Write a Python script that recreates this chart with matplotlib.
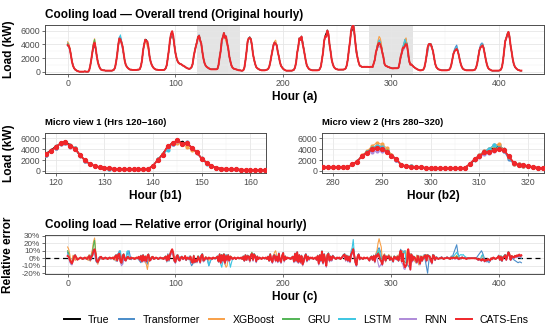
import numpy as np
import matplotlib
matplotlib.use("Agg")
import matplotlib.pyplot as plt
from matplotlib.lines import Line2D
from matplotlib.ticker import FuncFormatter, MultipleLocator

plt.rcParams['font.family'] = ['Liberation Sans', 'DejaVu Sans']

# ---------------- data (hourly, hours 0..421) ----------------
true_kw = [
 3800,3700,3400,2600,1600,900,500,300,200,100,50,0,0,0,0,0,50,0,0,0,200,900,1800,2800,
 3500,3800,3300,2400,1500,900,500,300,250,200,200,150,150,150,150,150,150,150,200,300,600,1400,2600,3800,
 4600,4900,4500,3600,2500,1600,1000,700,500,400,300,300,250,250,250,250,250,300,300,400,800,1700,3000,4100,
 4600,4700,4300,3400,2300,1500,1000,700,500,400,300,300,250,250,250,250,250,250,300,500,1000,2000,3300,4500,
 5100,5300,4900,4000,2900,2000,1500,1300,1200,1100,1000,900,800,700,600,500,450,400,500,700,1200,2200,3200,3800,
 4500,5000,5300,4800,4000,2800,2000,1300,900,700,600,500,400,350,350,350,350,350,350,400,1000,2000,3200,4400,
 5200,5400,5300,5000,4300,3300,2300,1500,900,600,450,400,350,300,250,200,200,150,150,200,600,1600,3000,4300,
 4800,5100,4600,3700,2600,1700,1100,700,500,400,300,250,200,200,200,200,250,300,400,700,1300,2300,3200,3800,
 4100,4200,3800,3000,2100,1400,900,600,400,300,200,150,150,150,150,150,150,200,300,600,1400,2600,3800,4700,
 4900,5000,4500,3500,2400,1500,900,600,400,300,250,200,200,200,200,200,200,250,400,800,1700,3000,4300,5300,
 5700,5800,5200,4100,2900,1800,1100,700,500,400,350,300,300,300,300,300,300,350,500,900,1900,3200,4600,5700,
 6100,6300,5600,4400,3100,2000,1300,900,800,700,700,700,700,700,700,700,700,700,700,700,1200,1800,2700,3300,
 3800,4100,4100,3700,3000,2100,1100,900,800,700,650,600,550,500,500,500,500,500,500,600,1200,2000,2800,3300,
 3800,4300,4500,4000,2400,1500,1200,1000,900,700,600,500,400,300,250,200,200,250,300,600,1300,2400,3400,3900,
 4000,4100,3700,2900,2000,1200,700,500,350,300,250,200,200,200,200,200,200,250,300,500,1000,1800,2600,3000,
 3200,3300,3000,2400,1600,1000,600,400,300,250,200,200,200,200,200,200,200,250,300,600,1200,2200,3100,3600,
 3800,3900,3500,2700,1800,1100,600,400,300,200,150,150,150,150,150,150,150,200,300,700,1600,3000,4300,5000,
 5300,5400,4900,3900,2800,1800,1100,700,500,350,250,200,150,150,
]

# relative error of each model, in percent (hourly)
err_transformer = [
 8,3,-3,-6,-4,2,3,-2,1,0,-1,0,1,0,0,-1,0,1,0,2,-3,4,-2,3,
 12,8,-3,-6,-2,1,2,-1,0,1,0,-1,0,0,1,0,-1,0,1,-2,3,-4,5,6,
 10,6,-5,-8,3,2,-1,4,8,10,3,-2,0,1,0,-1,0,1,-2,-4,-6,3,4,-2,
 3,-3,-8,4,2,-1,2,0,1,-1,0,1,0,-1,0,0,1,0,-1,3,-5,6,-4,4,
 6,9,4,-4,-6,3,5,-3,2,-1,1,0,-1,2,-3,1,-2,3,-6,-10,-8,-4,-6,-3,
 -5,3,2,-6,4,6,-4,-3,2,1,-4,-10,-6,-2,0,1,0,-1,1,3,-5,6,-7,5,
 -4,6,-8,5,-3,5,-4,3,2,-1,0,1,-1,0,1,0,1,0,-1,3,-4,5,-3,4,
 3,-4,5,4,-3,6,2,-5,3,-1,1,0,-1,1,0,-1,1,0,2,-3,6,-3,-6,4,
 5,-2,3,-5,7,-3,-4,4,6,-2,3,-1,0,1,-1,0,1,2,-3,5,-4,7,-6,5,
 -6,4,-7,-5,3,6,-4,3,-2,1,0,1,-1,0,1,-2,3,-6,5,-4,8,-7,6,-3,
 -9,5,7,-4,3,-3,4,2,0,-1,1,0,1,-1,0,2,5,4,-3,4,-4,3,-5,6,
 10,14,4,-6,-10,3,6,-2,1,0,-1,1,0,0,1,-1,-2,1,3,-3,4,-5,5,8,
 12,14,10,6,-6,-4,5,-4,3,2,4,-3,2,-2,-5,3,1,-2,3,-4,6,12,8,10,
 8,10,6,-8,-10,-12,6,-4,3,2,-3,-6,4,-3,-8,3,-4,1,3,5,-4,-12,-20,-6,
 3,-4,-5,5,4,-3,2,1,-1,0,1,2,0,-1,1,0,2,1,0,-1,3,2,6,10,
 14,18,8,2,1,-1,2,0,1,0,-1,0,1,0,0,1,0,0,1,0,2,4,6,8,
 10,7,3,-2,-3,-5,-4,-6,-3,-1,-2,1,0,-1,0,1,4,-3,3,-4,2,3,5,-1,
 4,7,4,-3,2,1,-2,-3,-4,-5,-6,-5,-5,-6,
]
err_xgboost = [
 15,12,5,-3,-6,4,3,-3,2,0,-1,1,0,-1,0,1,0,-1,2,-3,5,-4,6,12,
 22,27,10,-4,-8,-3,2,-1,1,0,-1,0,1,0,-1,0,1,0,-1,2,-3,4,-2,4,
 5,-3,-5,4,6,-3,-2,2,1,-1,0,1,0,0,1,-1,0,1,2,-3,4,-5,3,-4,
 -5,-8,-15,-6,2,-3,2,1,-1,0,1,0,-1,0,0,1,-1,0,2,3,-4,5,-3,4,
 7,10,5,-4,-4,3,5,-3,-2,1,2,-1,0,2,-3,1,0,-2,3,-5,-7,4,-6,-3,
 -6,3,-2,-4,4,5,-4,-2,2,1,-2,-3,-1,0,-1,1,0,0,1,3,-5,6,-5,-3,
 -3,-4,-8,-12,-10,5,-4,3,2,-1,0,1,-1,0,1,0,1,0,-1,3,-4,5,-3,4,
 3,-5,3,7,-3,4,2,-3,3,-1,1,0,-1,1,0,0,1,-1,2,-4,6,-3,-4,4,
 8,10,4,-5,5,-3,-6,4,5,-3,3,-1,1,0,0,-1,1,2,-5,5,-4,6,-4,5,
 -4,3,-10,-6,3,4,-4,2,-2,1,0,1,-1,0,1,-2,4,-8,3,-3,8,-5,5,-3,
 -8,3,5,-4,3,-3,3,2,0,-1,1,0,1,-1,0,2,3,4,-3,4,-2,3,-4,4,
 6,10,2,-6,-8,3,4,-2,1,0,-1,1,0,0,1,-1,-2,2,3,-3,4,-6,6,10,
 20,26,20,15,-2,3,6,-5,3,2,5,-2,3,-1,-3,3,2,1,4,-2,7,10,6,9,
 6,8,10,-6,8,-10,6,-5,3,2,-3,-6,4,-3,-9,3,-4,2,3,4,-2,5,-3,3,
 3,-3,-5,5,4,-2,1,0,-1,0,0,1,0,-1,0,0,1,0,0,-1,2,0,2,1,
 2,4,1,-1,0,0,1,0,0,0,-1,0,0,0,0,0,0,0,0,0,-1,-2,-1,-2,
 2,4,-1,-3,-2,-3,-1,-2,-3,0,-1,1,0,-1,0,1,3,-3,3,-4,1,2,4,-1,
 3,6,4,-2,3,2,1,4,2,3,2,3,1,2,
]
err_gru = [
 10,6,-2,-5,-6,-2,2,3,1,-1,-1,0,1,0,-1,0,1,0,-1,1,3,-2,3,8,
 18,24,8,-4,-5,-2,1,2,0,-1,0,1,0,-1,0,1,0,0,1,-1,2,4,-3,5,
 7,-3,-7,3,5,-2,-3,1,2,0,-1,1,0,0,-1,0,1,0,2,-2,3,-4,4,-3,
 3,-4,2,5,-3,-2,1,2,-1,0,1,0,-1,0,1,0,0,-1,1,2,-3,4,-2,5,
 9,11,6,-3,-5,2,4,-2,-3,1,2,-1,0,3,-2,1,0,-1,2,-4,-6,3,-5,-2,
 -3,3,0,-4,3,6,-3,-2,1,0,-1,1,0,0,-1,1,0,0,1,2,-4,5,-6,5,
 -2,6,-5,4,-2,4,-3,2,1,-1,0,1,-1,0,1,0,0,1,-1,2,-3,4,-2,3,
 3,-2,5,8,-1,6,4,-4,2,-1,1,0,-1,1,0,0,1,-1,2,-3,5,-2,-5,3,
 5,-2,3,-4,6,-2,-5,3,7,-3,2,-1,1,0,0,-1,1,2,-4,6,-3,8,-5,4,
 -4,3,-7,-4,2,5,-3,2,-1,1,0,1,-1,0,1,-2,3,-7,4,-3,9,-5,5,-2,
 -8,5,7,-3,2,-2,3,1,0,-1,1,0,1,-1,0,2,4,6,-2,3,-3,2,-4,5,
 9,13,4,-5,-8,2,5,-1,1,0,-1,1,0,0,1,-1,-3,1,2,-2,3,-4,4,4,
 9,7,2,-3,-7,2,4,-3,2,1,3,-2,1,-1,-4,2,1,-1,2,-3,4,9,-3,6,
 -4,-5,-6,-5,10,2,-12,5,-3,2,1,-2,-5,3,-2,-7,2,-3,1,2,4,-3,4,3,
 2,-3,-6,4,3,-2,1,0,-1,0,0,1,0,-1,0,0,1,0,0,-1,1,0,2,1,
 1,3,1,-1,0,0,1,0,0,0,-1,0,0,0,0,0,0,0,0,0,-1,-2,-1,-2,
 -2,0,-2,-4,-2,-3,-1,-2,-3,0,-1,1,0,-1,0,1,3,-2,3,-3,2,3,5,-1,
 5,9,6,-2,3,2,1,3,2,3,2,4,2,3,
]
err_lstm = [
 6,2,-4,-7,-8,-3,3,5,1,-2,-1,0,1,0,-1,0,1,0,-1,1,4,-3,3,5,
 12,10,4,-5,-6,-2,1,2,0,-1,0,1,0,-1,0,1,0,0,1,-2,3,5,-4,6,
 8,10,-4,3,6,-2,-3,9,10,2,-1,1,0,0,-1,0,1,0,2,-3,4,-5,5,-4,
 2,-5,3,6,-4,-2,1,2,-1,0,1,0,-1,0,1,0,0,-1,1,3,-4,5,-3,6,
 10,11,8,-4,-6,2,5,-3,-3,1,3,-1,0,3,-3,1,0,-1,3,-5,-7,4,-6,-3,
 -5,2,-2,-6,4,6,-4,-3,1,0,-2,-10,-5,-2,-1,1,0,0,1,3,-5,6,-8,-12,
 -4,5,-7,4,-3,5,-4,-12,-6,-1,0,1,-1,0,1,0,0,1,-1,3,-4,5,-3,4,
 3,-4,5,6,-3,6,3,-5,3,-1,1,0,-1,1,0,0,1,-1,3,-4,6,-3,-6,4,
 5,-3,3,-5,7,-3,-6,4,8,-4,3,-1,1,0,0,-1,1,3,-5,7,-4,9,-6,5,
 -6,4,-9,-5,3,6,-4,3,-2,1,0,1,-1,0,1,-3,4,-8,5,-4,10,-7,6,-3,
 -11,5,7,-4,3,-3,4,2,0,-1,1,0,1,-1,0,3,5,6,-3,4,-4,3,-5,10,
 14,25,6,-6,-11,3,6,-2,1,0,-1,1,0,0,1,-1,-3,1,3,-3,4,-5,5,6,
 10,12,6,-5,-9,3,5,-4,3,1,4,-3,2,-2,-5,3,2,-2,3,-4,5,11,-5,7,
 8,10,-6,-7,11,3,-14,6,-4,3,2,-3,-6,4,-3,-8,3,-4,2,3,5,-4,5,4,
 3,-4,-7,5,4,-3,2,1,-1,0,0,1,0,-1,0,0,1,0,0,-1,2,1,3,4,
 6,8,5,3,4,5,4,5,3,2,1,0,0,0,0,0,0,0,0,0,-1,-2,-1,-2,
 3,5,-2,-4,-3,-4,-2,-3,-4,0,-1,1,0,-1,0,1,4,-3,3,-4,2,3,5,-2,
 5,9,6,-3,3,2,1,3,2,3,1,2,1,0,
]
err_rnn = [
 5,1,-5,-8,-9,-4,2,3,1,-2,-1,0,1,0,-1,0,1,0,-1,1,2,-3,1,3,
 8,9,4,-5,-6,-3,0,1,0,-1,0,1,0,-1,0,1,0,0,1,-2,1,3,-4,2,
 2,-6,-10,-8,3,-3,-4,0,1,0,-1,1,0,0,-1,0,1,0,2,-3,2,-5,2,-5,
 0,-5,1,3,-4,-3,0,1,-1,0,1,0,-1,0,1,0,0,-1,1,1,-4,2,-3,3,
 5,8,4,-4,-7,1,3,-3,-4,0,1,-2,0,2,-3,0,0,-2,1,-5,-7,2,-6,-4,
 -6,0,-3,-7,2,4,-5,-3,0,0,-2,0,0,0,-1,1,0,0,1,1,-5,3,-7,2,
 -5,3,-7,2,-4,3,-5,1,0,-2,0,1,-1,0,1,0,0,1,-1,1,-4,2,-3,1,
 0,-5,2,4,-4,3,1,-6,1,-2,1,0,-1,1,0,0,1,-1,1,-4,3,-3,-7,1,
 2,-5,0,-6,4,-4,-7,1,5,-5,0,-1,1,0,0,-1,1,1,-6,4,-5,6,-7,2,
 -7,1,-10,-6,0,3,-5,0,-3,1,0,1,-1,0,1,-3,1,-9,2,-5,7,-8,3,-4,
 -12,2,4,-5,0,-4,1,0,0,-1,1,0,1,-1,0,1,2,3,-4,1,-5,0,-6,3,
 5,9,0,-7,-11,0,3,-2,1,0,-1,1,0,0,1,-1,-4,0,1,-3,1,-6,2,0,
 -6,-12,-10,-7,-10,0,2,-4,1,1,2,-3,0,-1,-5,1,0,-2,1,-4,2,6,-6,-8,
 -14,-15,-10,-8,8,0,-16,3,-5,1,0,-3,-7,2,-3,-9,1,-4,0,1,2,-5,2,1,
 0,-4,-8,2,1,-3,0,0,-1,0,0,1,0,-1,0,0,1,0,0,-1,0,-1,0,-1,
 -1,0,-1,-2,0,0,1,0,0,0,-1,0,0,0,0,0,0,0,0,0,-1,-3,-2,-3,
 -4,-2,-3,-5,-3,-4,-2,-3,-4,0,-1,1,0,-1,0,1,2,-3,1,-4,0,1,3,-3,
 1,5,3,-3,1,0,0,2,1,2,1,2,1,2,
]
err_cats = [
 3,2,-2,-5,-7,-3,2,4,1,-2,-1,0,1,0,-1,0,1,0,-1,1,3,-2,2,4,
 10,12,6,-4,-5,-2,1,2,0,-1,0,1,0,-1,0,1,0,0,1,-1,2,4,-3,5,
 6,-4,-6,3,5,-2,-3,1,2,0,-1,1,0,0,-1,0,1,0,2,-2,3,-4,4,-3,
 2,-4,3,5,-3,-2,1,2,-1,0,1,0,-1,0,1,0,0,-1,1,2,-3,4,-2,5,
 9,12,7,-3,-5,2,4,-2,-3,1,2,-1,0,3,-2,1,0,-1,2,-4,-6,3,-5,-2,
 -4,2,-1,-5,3,5,-3,-2,1,0,-1,1,0,0,-1,1,0,0,1,2,-4,5,-6,4,
 -3,5,-6,3,-2,4,-3,2,1,-1,0,1,-1,0,1,0,0,1,-1,2,-3,4,-2,3,
 2,-3,4,6,-2,5,3,-4,2,-1,1,0,-1,1,0,0,1,-1,2,-3,5,-2,-5,3,
 4,-3,2,-4,6,-2,-5,3,7,-3,2,-1,1,0,0,-1,1,2,-4,6,-3,8,-5,4,
 -5,3,-8,-4,2,5,-3,2,-1,1,0,1,-1,0,1,-2,3,-7,4,-3,9,-6,5,-2,
 -10,4,6,-3,2,-2,3,1,0,-1,1,0,1,-1,0,2,4,5,-2,3,-3,2,-4,5,
 8,12,3,-5,-9,2,5,-1,1,0,-1,1,0,0,1,-1,-3,1,2,-2,3,-4,4,2,
 6,3,-2,-4,-8,2,4,-3,2,1,3,-2,1,-1,-4,2,1,-1,2,-3,4,10,-4,6,
 -8,-12,-10,-4,12,3,-15,5,-3,2,1,-2,-5,3,-2,-7,2,-3,1,2,4,-3,4,3,
 2,-3,-6,4,3,-2,1,0,-1,0,0,1,0,-1,0,0,1,0,0,-1,1,0,1,0,
 0,1,0,-1,0,0,1,0,0,0,-1,0,0,0,0,0,0,0,0,0,-1,-2,-1,-2,
 -3,-1,-2,-4,-2,-3,-1,-2,-3,0,-1,1,0,-1,0,1,3,-2,2,-3,1,2,4,-2,
 3,8,5,-2,3,2,1,3,2,4,3,5,3,4,
]

model_names = ["Transformer", "XGBoost", "GRU", "LSTM", "RNN", "CATS-Ens"]
model_errors = [err_transformer, err_xgboost, err_gru, err_lstm, err_rnn, err_cats]
colors = {"True": "#000000", "Transformer": "#4A8CC9", "XGBoost": "#F8A048",
          "GRU": "#52B455", "LSTM": "#3CC6E2", "RNN": "#AE8AD8", "CATS-Ens": "#F0262A"}
windows = [(120, 160), (280, 320)]

# ---------------- build series ----------------
n = min([len(true_kw)] + [len(e) for e in model_errors])
hours = np.arange(n)
y_true = np.array(true_kw[:n], dtype=float)
preds = {}
errs = {}
for name, e in zip(model_names, model_errors):
    ea = np.array(e[:n], dtype=float)
    errs[name] = ea
    preds[name] = y_true * (1 + ea / 100.0)

# ---------------- figure ----------------
W, H = 550, 333
fig = plt.figure(figsize=(5.5, 3.33), dpi=100)

def box(l, t, r, b):
    return [l / W, 1 - b / H, (r - l) / W, (b - t) / H]

ax_top = fig.add_axes(box(45, 25, 544, 74))
ax_m1 = fig.add_axes(box(45, 133, 266, 173))
ax_m2 = fig.add_axes(box(322, 133, 544, 173))
ax_err = fig.add_axes(box(45, 235, 544, 274))

tick_fs = 6.3
lab_fs = 8.6
title_fs = 8.5
def style(ax, fs=tick_fs):
    ax.set_facecolor("white")
    for s in ax.spines.values():
        s.set_color("#4d4d4d")
        s.set_linewidth(0.7)
    ax.grid(True, which="major", color="#e6e6e6", lw=0.6, zorder=0)
    ax.grid(True, which="minor", color="#f0f0f0", lw=0.35, zorder=0)
    ax.set_axisbelow(True)
    ax.tick_params(axis="both", which="major", labelsize=fs, length=2.2, width=0.5,
                   color="#333333", labelcolor="#4d4d4d", pad=1.2)
    ax.tick_params(axis="both", which="minor", length=0)

lw_m = 0.8
# --- top overall
ax = ax_top
style(ax)
for (a, b) in windows:
    ax.axvspan(a, b, color="#d9d9d9", alpha=0.7, lw=0, zorder=0.5)
ax.plot(hours, y_true, color=colors["True"], lw=lw_m, zorder=2)
for name in model_names:
    ax.plot(hours, preds[name], color=colors[name], lw=1.4 if name == "CATS-Ens" else lw_m, zorder=3)
ax.set_xlim(-21, 442)
ax.set_ylim(-340, 6840)
ax.xaxis.set_major_locator(MultipleLocator(100))
ax.xaxis.set_minor_locator(MultipleLocator(50))
ax.yaxis.set_major_locator(MultipleLocator(2000))
ax.yaxis.set_minor_locator(MultipleLocator(1000))
ax.set_title("Cooling load \u2014 Overall trend (Original hourly)", loc="left",
             fontsize=title_fs, fontweight="bold", pad=5)
ax.set_xlabel("Hour (a)", fontsize=lab_fs, fontweight="bold", labelpad=2.5)
ax.set_ylabel("Load (kW)", fontsize=lab_fs, fontweight="bold")
ax.yaxis.set_label_coords(-30 / 499, 0.5)

# --- micro views
for ax, (a, b), lab, sub in [(ax_m1, windows[0], "Micro view 1 (Hrs 120\u2212160)", "Hour (b1)"),
                             (ax_m2, windows[1], "Micro view 2 (Hrs 280\u2212320)", "Hour (b2)")]:
    style(ax)
    sel = (hours >= a - 3) & (hours <= b + 3)
    ax.plot(hours[sel], y_true[sel], color=colors["True"], lw=1.0, marker="o", ms=1.6, zorder=2)
    for name in model_names:
        big = name == "CATS-Ens"
        ax.plot(hours[sel], preds[name][sel], color=colors[name], lw=1.3 if big else 0.7,
                marker="o", ms=2.8 if big else 2.0, zorder=3)
    ax.set_xlim(a - 2.2, b + 3.2)
    ax.set_ylim(-370, 6970)
    ax.xaxis.set_major_locator(MultipleLocator(10))
    ax.xaxis.set_minor_locator(MultipleLocator(5))
    ax.yaxis.set_major_locator(MultipleLocator(2000))
    ax.yaxis.set_minor_locator(MultipleLocator(1000))
    ax.set_title(lab, loc="left", fontsize=6.8, fontweight="bold", pad=6)
    ax.set_xlabel(sub, fontsize=lab_fs, fontweight="bold", labelpad=2.5)
ax_m1.set_ylabel("Load (kW)", fontsize=lab_fs, fontweight="bold")
ax_m1.yaxis.set_label_coords(-30 / 221, 0.5)

# --- relative error
ax = ax_err
style(ax, fs=5.9)
ax.axhline(0, color="black", lw=0.9, ls=(0, (4, 3)), zorder=1.5)
for name in model_names:
    ax.plot(hours, errs[name], color=colors[name], lw=1.4 if name == "CATS-Ens" else lw_m, zorder=3)
ax.set_xlim(-21, 442)
ax.set_ylim(-21, 31)
ax.xaxis.set_major_locator(MultipleLocator(100))
ax.xaxis.set_minor_locator(MultipleLocator(50))
ax.yaxis.set_major_locator(MultipleLocator(10))
ax.yaxis.set_major_formatter(FuncFormatter(lambda v, p: f"{int(round(v))}%"))
ax.tick_params(axis="x", labelsize=tick_fs)
ax.set_title("Cooling load \u2014 Relative error (Original hourly)", loc="left",
             fontsize=title_fs, fontweight="bold", pad=5)
ax.set_xlabel("Hour (c)", fontsize=lab_fs, fontweight="bold", labelpad=2.5)
ax.set_ylabel("Relative error", fontsize=lab_fs, fontweight="bold")
ax.yaxis.set_label_coords(-31 / 499, 0.5)

# --- legend
handles = [Line2D([0], [0], color=colors[k], lw=1.4) for k in ["True"] + model_names]
fig.legend(handles, ["True"] + model_names, loc="lower center", ncol=7, frameon=False,
           fontsize=7.6, handlelength=1.5, handletextpad=0.75, columnspacing=0.85,
           bbox_to_anchor=(0.539, -0.005))

fig.savefig("out.png", dpi=100)
